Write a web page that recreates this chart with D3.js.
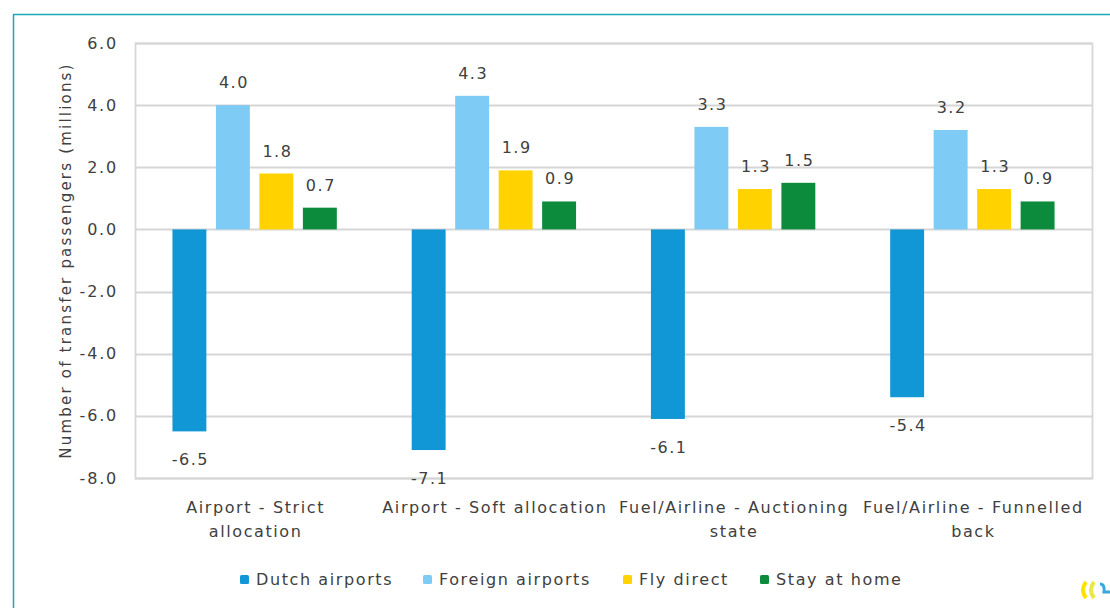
<!DOCTYPE html>
<html lang="en">
<head>
	<meta charset="UTF-8">
	<title>Transfer passengers</title>
	<style>
		body { margin: 0; background: #fff; }
		svg text { font-family: "DejaVu Sans"; fill: #404040; }
	</style>
</head>
<body>
	<svg id="chart" width="1110" height="608"></svg>
	<script src="https://cdn.jsdelivr.net/npm/d3@7"></script>
	<script>
		// chart data
		var categories = [["Airport - Strict", "allocation"], ["Airport - Soft allocation"], ["Fuel/Airline - Auctioning", "state"], ["Fuel/Airline - Funnelled", "back"]];
		var seriesNames = ["Dutch airports", "Foreign airports", "Fly direct", "Stay at home"];
		var dutch = [-6.5, -7.1, -6.1, -5.4];
		var foreign = [4.0, 4.3, 3.3, 3.2];
		var flyDirect = [1.8, 1.9, 1.3, 1.3];
		var stayHome = [0.7, 0.9, 1.5, 0.9];
		var yTicks = [6, 4, 2, 0, -2, -4, -6, -8];
		var colors = ["#1197d5", "#7ecbf6", "#ffd200", "#0b8b3b"];

		var series = [dutch, foreign, flyDirect, stayHome];
		var svg = d3.select("#chart");

		// plain hyphen for negatives, like the original
		var fmt = d3.formatLocale({ decimal: ".", thousands: ",", grouping: [3], currency: ["", ""], minus: "-" }).format(".1f");

		// teal frame (only top and left visible)
		svg.append("path")
			.attr("d", "M13.5,608 V14.5 H1110")
			.attr("fill", "none")
			.attr("stroke", "#1aa8b8")
			.attr("stroke-width", 1.5);

		var plotL = 135, plotR = 1092, plotT = 43, plotB = 478;

		var y = d3.scaleLinear().domain([-8, 6]).range([plotB, plotT]);
		var x0 = d3.scaleBand().domain(d3.range(categories.length))
			.range([plotL, plotR]).paddingInner(0.273).paddingOuter(0.1365);
		var x1 = d3.scaleBand().domain(d3.range(series.length))
			.range([0, x0.bandwidth()]).paddingInner(0.22).paddingOuter(0.11);

		// grid lines
		svg.append("g").selectAll("line").data(yTicks).join("line")
			.attr("x1", plotL).attr("x2", plotR)
			.attr("y1", function(d) { return Math.round(y(d)) + 0.5; })
			.attr("y2", function(d) { return Math.round(y(d)) + 0.5; })
			.attr("stroke", "#d6d6d6").attr("stroke-width", 1.8);

		// plot border
		svg.append("rect")
			.attr("x", plotL + 0.5).attr("y", plotT + 0.5)
			.attr("width", plotR - plotL).attr("height", plotB - plotT)
			.attr("fill", "none").attr("stroke", "#d6d6d6").attr("stroke-width", 1.8);

		// y axis
		var yAxis = svg.append("g")
			.attr("transform", "translate(" + plotL + ",0)")
			.call(d3.axisLeft(y).tickValues(yTicks).tickSize(0).tickPadding(17).tickFormat(fmt));
		yAxis.attr("font-family", null).attr("font-size", null);
		yAxis.select(".domain").remove();
		yAxis.selectAll("text")
			.style("font-size", "16px").style("letter-spacing", "1.8px").attr("fill", "#404040");

		svg.append("text")
			.attr("transform", "translate(71," + ((plotT + plotB) / 2) + ") rotate(-90)")
			.attr("text-anchor", "middle")
			.style("font-size", "15px")
			.style("letter-spacing", "2.2px")
			.text("Number of transfer passengers (millions)");

		// bars
		var groups = svg.append("g").selectAll("g").data(categories).join("g")
			.attr("transform", function(d, i) { return "translate(" + x0(i) + ",0)"; });

		groups.each(function(c, ci) {
			var g = d3.select(this);
			var vals = series.map(function(s, si) { return { s: si, v: s[ci] }; });
			g.selectAll("rect").data(vals).join("rect")
				.attr("x", function(d) { return x1(d.s); })
				.attr("width", x1.bandwidth())
				.attr("y", function(d) { return y(Math.max(0, d.v)); })
				.attr("height", function(d) { return Math.abs(y(d.v) - y(0)); })
				.attr("fill", function(d) { return colors[d.s]; });
			g.selectAll("text.lbl").data(vals).join("text")
				.attr("class", "lbl")
				.attr("x", function(d) { return x1(d.s) + x1.bandwidth() / 2 + 1; })
				.attr("y", function(d) { return d.v >= 0 ? y(d.v) - 17 : y(d.v) + 34; })
				.attr("text-anchor", "middle")
				.style("font-size", "16px")
				.style("letter-spacing", "1.5px")
				.text(function(d) { return fmt(d.v); });
		});

		// category labels
		svg.append("g").selectAll("text").data(categories).join("text")
			.attr("x", function(d, i) { return x0(i) + x0.bandwidth() / 2 + 1; })
			.attr("y", 513)
			.attr("text-anchor", "middle")
			.style("font-size", "16px")
			.style("letter-spacing", "1.6px")
			.each(function(d) {
				var t = d3.select(this);
				d.forEach(function(line, li) {
					t.append("tspan")
						.attr("x", t.attr("x"))
						.attr("dy", li === 0 ? 0 : 24)
						.text(line);
				});
			});

		// legend
		var legendX = [240, 423, 623, 760];
		var legend = svg.append("g").selectAll("g").data(seriesNames).join("g")
			.attr("transform", function(d, i) { return "translate(" + legendX[i] + ",579)"; });
		legend.append("rect")
			.attr("x", 0).attr("y", -4).attr("width", 9).attr("height", 9).attr("rx", 1.5)
			.attr("fill", function(d, i) { return colors[i]; });
		legend.append("text")
			.attr("x", 16).attr("y", 6)
			.style("font-size", "16px")
			.style("letter-spacing", "1.6px")
			.text(function(d) { return d; });

		// partial logo in the lower right corner
		var logo = svg.append("g").attr("transform", "translate(1080,580)");
		logo.append("path").attr("d", "M6,2 Q0,10 6,18").attr("fill", "none").attr("stroke", "#ffe100").attr("stroke-width", 4);
		logo.append("path").attr("d", "M14,2 Q8,10 14,18").attr("fill", "none").attr("stroke", "#e8e84a").attr("stroke-width", 4);
		logo.append("path").attr("d", "M20,4 Q25,4 24,12 L30,12").attr("fill", "none").attr("stroke", "#38a8e0").attr("stroke-width", 3);
	</script>
</body>
</html>
